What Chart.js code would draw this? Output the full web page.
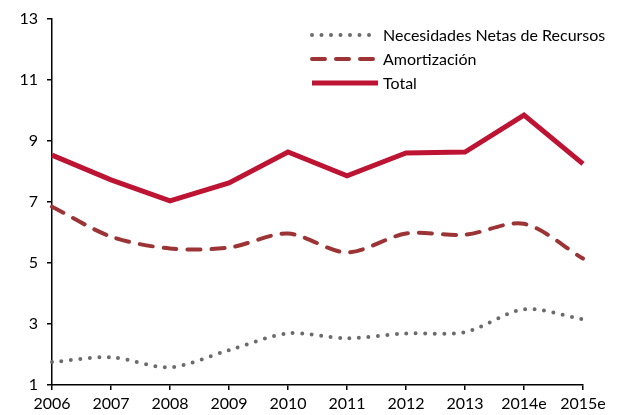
<!DOCTYPE html>
<html>
<head>
<meta charset="utf-8">
<script src="https://cdn.jsdelivr.net/npm/chart.js@4"></script>
<style>
  html, body { margin: 0; padding: 0; background: #fff; }
  #wrap { width: 618px; height: 415px; }
</style>
</head>
<body>
<div id="wrap"><canvas id="myChart" width="618" height="415"></canvas></div>
<script>
// datos
const years = ['2006', '2007', '2008', '2009', '2010', '2011', '2012', '2013', '2014e', '2015e'];
const necesidades = [1.75, 1.91, 1.58, 2.14, 2.69, 2.53, 2.69, 2.73, 3.48, 3.15];
const amortizacion = [6.84, 5.86, 5.47, 5.5, 5.96, 5.34, 5.96, 5.92, 6.28, 5.14];
const total = [8.53, 7.72, 7.03, 7.62, 8.63, 7.85, 8.6, 8.63, 9.84, 8.24];
const yTicks = [1, 3, 5, 7, 9, 11, 13];

const fuente = 'Lato, "Open Sans", sans-serif';

// leyenda dibujada a mano (muestra de línea + texto)
const leyenda = {
    id: 'leyenda',
    afterDraw(chart) {
        const ctx = chart.ctx;
        const x0 = 312, x1 = 378, yBase = 35, paso = 24;
        chart.data.datasets.forEach((ds, i) => {
            const y = yBase + i * paso;
            ctx.save();
            ctx.strokeStyle = ds.borderColor;
            ctx.lineWidth = ds.borderWidth;
            ctx.lineCap = ds.borderCapStyle || 'butt';
            ctx.setLineDash(ds.borderDash || []);
            ctx.beginPath();
            ctx.moveTo(x0, y);
            ctx.lineTo(x1, y);
            ctx.stroke();
            ctx.setLineDash([]);
            ctx.fillStyle = '#000';
            ctx.font = '16px ' + fuente;
            ctx.textBaseline = 'middle';
            ctx.fillText(ds.label, x1 + 5, y + 1);
            ctx.restore();
        });
    }
};

window.onload = function() {
    const ctx = document.getElementById('myChart').getContext('2d');
    new Chart(ctx, {
        type: 'line',
        data: {
            labels: years,
            datasets: [{
                label: 'Necesidades Netas de Recursos',
                data: necesidades,
                borderColor: '#6b6b6b',
                borderWidth: 4,
                borderDash: [0, 9.5],
                borderCapStyle: 'round',
                tension: 0.3,
                pointRadius: 0,
                fill: false
            }, {
                label: 'Amortización',
                data: amortizacion,
                borderColor: '#9c3335',
                borderWidth: 4,
                borderDash: [13, 11],
                borderCapStyle: 'round',
                tension: 0.3,
                pointRadius: 0,
                fill: false
            }, {
                label: 'Total',
                data: total,
                borderColor: '#be1434',
                borderWidth: 5,
                borderCapStyle: 'butt',
                borderJoinStyle: 'miter',
                tension: 0,
                pointRadius: 0,
                fill: false
            }]
        },
        options: {
            responsive: false,
            animation: false,
            layout: { padding: { top: 17, right: 35, left: 0, bottom: 0 } },
            plugins: {
                legend: { display: false },
                tooltip: { enabled: false }
            },
            scales: {
                x: {
                    offset: false,
                    border: { color: '#000', width: 1.5 },
                    grid: { drawOnChartArea: false, drawTicks: true, tickLength: 5, color: '#000', lineWidth: 1.5 },
                    ticks: { color: '#000', font: { family: fuente, size: 16 }, maxRotation: 0, padding: 4 },
                    afterFit(scale) { scale.height = 30; }
                },
                y: {
                    min: 1,
                    max: 13,
                    afterBuildTicks(scale) { scale.ticks = yTicks.map(v => ({ value: v })); },
                    border: { color: '#000', width: 1.5 },
                    grid: { drawOnChartArea: false, drawTicks: true, tickLength: 5, color: '#000', lineWidth: 1.5 },
                    ticks: { color: '#000', font: { family: fuente, size: 16 }, padding: 9 },
                    afterFit(scale) { scale.width = 52; }
                }
            }
        },
        plugins: [leyenda]
    });
};
</script>
</body>
</html>
